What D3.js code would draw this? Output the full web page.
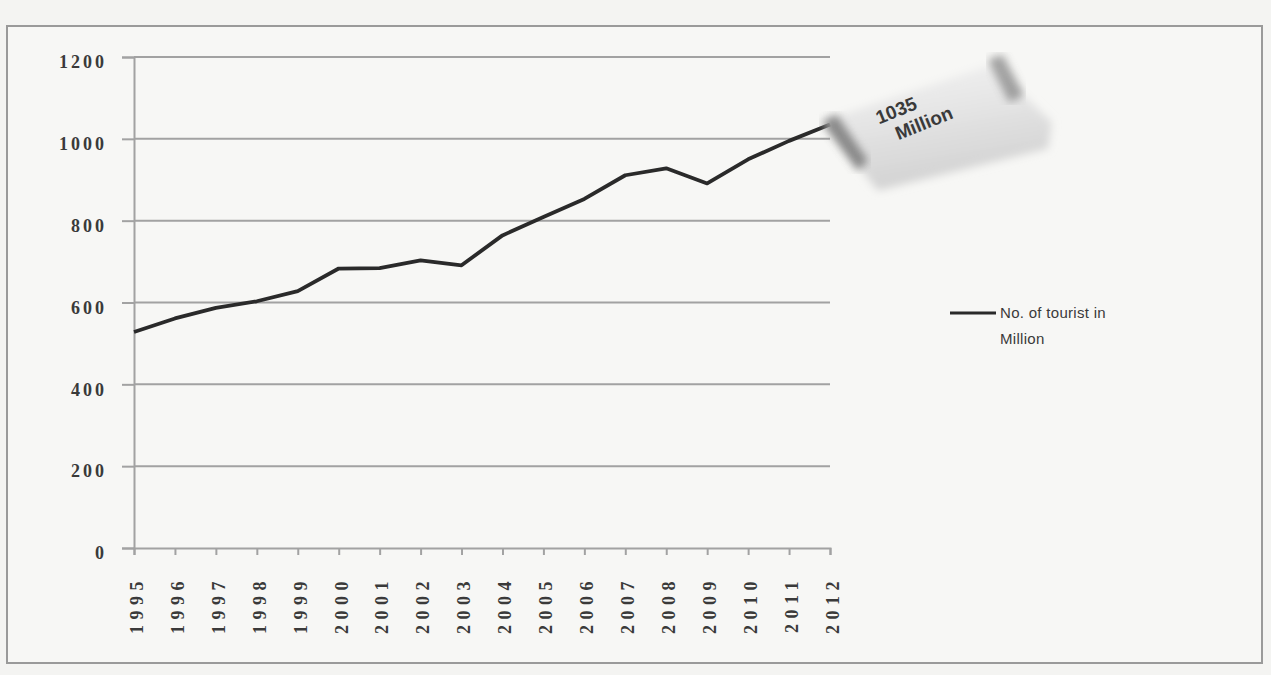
<!DOCTYPE html>
<html><head><meta charset="utf-8">
<script src="https://cdn.jsdelivr.net/npm/d3@7"></script>
<style>
html,body{margin:0;padding:0;background:#f4f4f2;}
svg{display:block;}
text{font-family:"Liberation Sans",Arial,sans-serif;fill:#3a3a3a;}
</style></head>
<body>
<svg id="chart" width="1271" height="675"></svg>
<script>
const years = ["1995","1996","1997","1998","1999","2000","2001","2002","2003","2004","2005","2006","2007","2008","2009","2010","2011","2012"];
const tourists = [528,561,587,603,628,683,684,703,691,764,809,853,911,928,891,950,995,1035];
const yTicks = [0,200,400,600,800,1000,1200];
const seriesName = ["No. of tourist in","Million"];
const calloutText = ["1035","Million"];

(function(){
const svg = d3.select("#chart");
svg.append("rect").attr("x",0).attr("y",0).attr("width",1271).attr("height",675).attr("fill","#f4f4f2");
svg.append("rect").attr("x",7).attr("y",26).attr("width",1255).attr("height",637)
  .attr("fill","#f7f7f5").attr("stroke","#9a9a9a").attr("stroke-width",2);

const pL = 134, pR = 830, pT = 57, pB = 548;
const x = d3.scalePoint().domain(years).range([pL, pR]);
const y = d3.scaleLinear().domain([0,1200]).range([pB, pT]);

// gridlines
svg.append("g").selectAll("line").data(yTicks.filter(d=>d>0)).join("line")
  .attr("x1", pL).attr("x2", pR).attr("y1", d=>y(d)).attr("y2", d=>y(d))
  .attr("stroke","#a2a2a2").attr("stroke-width",2);

// y axis
const yAxis = d3.axisLeft(y).tickValues(yTicks).tickFormat(d3.format("d")).tickSize(12).tickPadding(15);
const gy = svg.append("g").attr("transform",`translate(${pL},0)`).call(yAxis);
gy.select(".domain").attr("stroke","#a2a2a2").attr("stroke-width",2);
gy.selectAll(".tick line").attr("stroke","#a2a2a2").attr("stroke-width",2);
gy.selectAll(".tick text").attr("font-size",18).attr("letter-spacing","3px").attr("font-weight","bold")
  .attr("fill","#555").attr("dy","0.6em").style("font-family","'Liberation Serif',serif");

// x axis
const xAxis = d3.axisBottom(x).tickSize(7).tickPadding(6);
const gx = svg.append("g").attr("transform",`translate(0,${pB})`).call(xAxis);
gx.select(".domain").attr("stroke","#a2a2a2").attr("stroke-width",2);
gx.selectAll(".tick line").attr("stroke","#a2a2a2").attr("stroke-width",2);
gx.selectAll(".tick text").attr("font-size",18).attr("letter-spacing","5.5px").attr("font-weight","bold")
  .style("font-family","'Liberation Serif',serif").attr("fill","#555")
  .attr("text-anchor","end").attr("transform","rotate(-90)")
  .attr("x",-28).attr("y",2).attr("dy","0.35em");

// line
const line = d3.line().x((d,i)=>x(years[i])).y(d=>y(d));
svg.append("path").datum(tourists).attr("d", line).attr("fill","none")
  .attr("stroke","#2a2a2a").attr("stroke-width",3.8).attr("stroke-linejoin","round");

// callout banner (anchored to the last data point)
const defs = svg.append("defs");
const grad = defs.append("linearGradient").attr("id","bg").attr("x1","0").attr("y1","0").attr("x2","0.3").attr("y2","1");
grad.append("stop").attr("offset","0").attr("stop-color","#f4f4f4");
grad.append("stop").attr("offset","0.45").attr("stop-color","#e6e6e6");
grad.append("stop").attr("offset","1").attr("stop-color","#d2d2d2");
const blur = defs.append("filter").attr("id","soft").attr("x","-10%").attr("y","-10%").attr("width","120%").attr("height","120%");
blur.append("feGaussianBlur").attr("stdDeviation",4);
const lastX = x(years[years.length-1]), lastY = y(tourists[tourists.length-1]);
const cg = svg.append("g").attr("transform",`translate(${lastX},${lastY})`);
cg.append("path").attr("d","M-6,-4 L162,-60 L222,-2 L218,24 L48,66 L30,44 Z").attr("fill","url(#bg)").attr("filter","url(#soft)");
cg.append("path").attr("d","M-6,-2 L6,-8 L36,36 L28,44 Z").attr("fill","#7a7a7a").attr("opacity",0.85).attr("filter","url(#soft)").attr("stroke","#777").attr("stroke-width",3);
cg.append("path").attr("d","M160,-64 L172,-68 L192,-30 L180,-24 Z").attr("fill","#8e8e8e").attr("opacity",0.8).attr("filter","url(#soft)").attr("stroke","#888").attr("stroke-width",3);
const tg = cg.append("g").attr("transform","translate(0,-4) rotate(-22)");
tg.append("text").attr("x",44).attr("y",22).attr("font-size",19).attr("font-weight","bold").attr("fill","#333").text(calloutText[0]);
tg.append("text").attr("x",56).attr("y",44).attr("font-size",19).attr("font-weight","bold").attr("fill","#333").text(calloutText[1]);

// legend
svg.append("line").attr("x1",950).attr("x2",996).attr("y1",313).attr("y2",313)
  .attr("stroke","#2a2a2a").attr("stroke-width",3);
svg.append("text").attr("x",1000).attr("y",318).attr("font-size",15).attr("letter-spacing","0.3px").text(seriesName[0]);
svg.append("text").attr("x",1000).attr("y",344).attr("font-size",15).attr("letter-spacing","0.3px").text(seriesName[1]);
})();
</script>
</body></html>
